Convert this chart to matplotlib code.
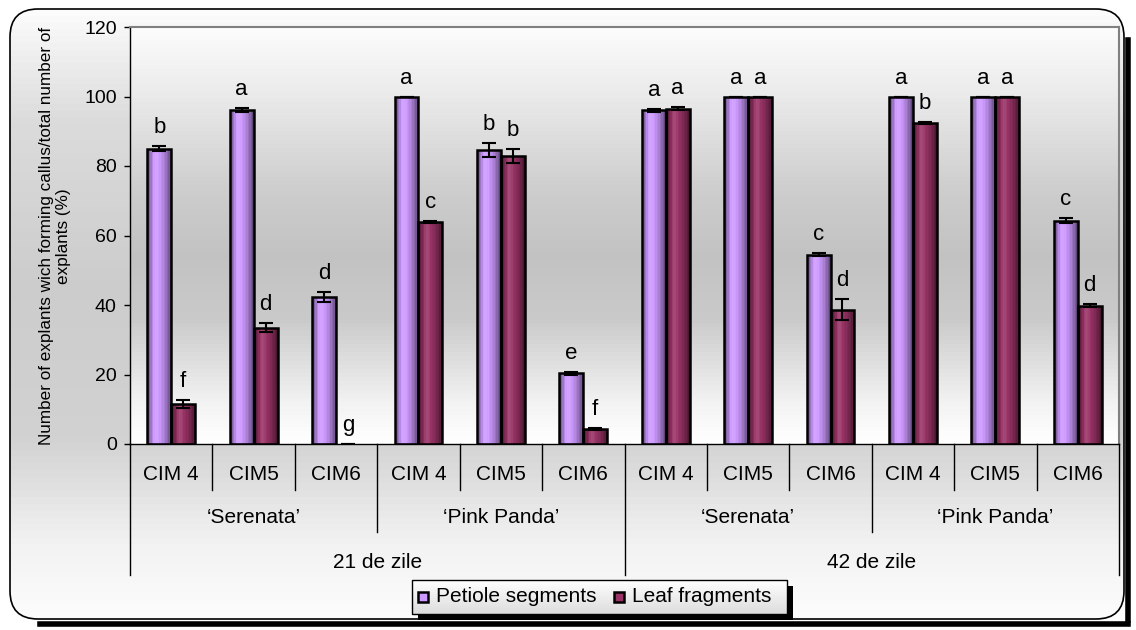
import numpy as np
import matplotlib.pyplot as plt
from matplotlib.patches import Rectangle, FancyBboxPatch
from matplotlib.colors import to_rgb

plt.rcParams["font.family"] = ["Liberation Sans", "DejaVu Sans"]

# ---- data -------------------------------------------------------------
media = ["CIM 4", "CIM5", "CIM6"] * 4
varieties = ["\u2018Serenata\u2019", "\u2018Pink Panda\u2019"] * 2
periods = ["21 de zile", "42 de zile"]

petiole = [85.0, 96.0, 42.3, 100.0, 84.5, 20.3, 96.0, 100.0, 54.5, 100.0, 100.0, 64.3]
petiole_err = [0.8, 0.6, 1.5, 0.0, 2.0, 0.4, 0.5, 0.0, 0.4, 0.0, 0.0, 0.8]
petiole_letters = ["b", "a", "d", "a", "b", "e", "a", "a", "c", "a", "a", "c"]

leaf = [11.5, 33.5, 0.0, 64.0, 83.0, 4.2, 96.5, 100.0, 38.7, 92.5, 100.0, 39.8]
leaf_err = [1.2, 1.3, 0.0, 0.3, 2.0, 0.3, 0.4, 0.0, 3.0, 0.3, 0.0, 0.5]
leaf_letters = ["f", "d", "g", "c", "b", "f", "a", "a", "d", "b", "a", "d"]

PETIOLE_COLOR = "#CC99FF"
LEAF_COLOR = "#993366"

W, H, DPI = 1136, 630, 100
fig = plt.figure(figsize=(W / DPI, H / DPI), dpi=DPI, facecolor="white")
inch = fig.dpi_scale_trans


def box(px, py, pw, ph):
    # pixel box from the top-left corner -> inches from bottom-left
    return px / DPI, (H - py - ph) / DPI, pw / DPI, ph / DPI


def shade_color(base, s):
    base = np.array(to_rgb(base))
    if s > 1:
        return tuple(np.clip(base + (1 - base) * (s - 1) * 2, 0, 1))
    return tuple(np.clip(base * s, 0, 1))


def gray_bands(px, py, pw, ph, pos, vals, n, zorder, clip=None):
    # vertical gray gradient, pos 0 = top
    for i in range(n):
        g = float(np.interp((i + 0.5) / n, pos, vals))
        bx, by, bw_, bh_ = box(px, py + ph * i / n, pw, ph / n * 1.1)
        r = Rectangle((bx, by), bw_, bh_, transform=inch, facecolor=(g, g, g),
                      edgecolor="none", linewidth=0, zorder=zorder)
        fig.add_artist(r)
        if clip is not None:
            r.set_clip_path(clip)


# ---- figure background ----------------------------------------------------
rs = "round,pad=0,rounding_size=0.28"
fx, fy, fw, fh = box(10, 9, W - 22, H - 20)
# shadow only along the lower right, drawn as thick lines
fig.add_artist(plt.Line2D([(W - 8) / DPI, (W - 8) / DPI], [(H - 40) / DPI, 10 / DPI],
                          transform=inch, color="black", linewidth=4, zorder=-10))
fig.add_artist(plt.Line2D([40 / DPI, (W - 8) / DPI], [6 / DPI, 6 / DPI],
                          transform=inch, color="black", linewidth=4, zorder=-10))
frame = FancyBboxPatch((fx, fy), fw, fh, boxstyle=rs, transform=inch,
                       facecolor="none", edgecolor="none", zorder=-9)
fig.add_artist(frame)
gray_bands(10, 9, W - 22, H - 20, [0, 0.18, 0.45, 0.7, 0.88, 1.0],
           [0.99, 0.86, 0.80, 0.82, 0.95, 0.99], 90, -8, clip=frame)
fig.add_artist(FancyBboxPatch((fx, fy), fw, fh, boxstyle=rs, transform=inch,
                              facecolor="none", edgecolor="black", linewidth=1.2,
                              zorder=-7))

# ---- main axes -----------------------------------------------------------
ax = fig.add_axes([130 / W, 1 - 444 / H, 989 / W, 417 / H])
x = np.arange(len(media))

grad_pos = [0, 0.1, 0.3, 0.45, 0.6, 0.8, 1.0]
grad_val = [1.0, 0.95, 0.79, 0.76, 0.8, 0.9, 0.99]
nb = 100
for i in range(nb):
    g = float(np.interp((i + 0.5) / nb, grad_pos, grad_val))
    ax.axhspan(120 * i / nb, 120 * (i + 1.1) / nb, facecolor=(g, g, g),
               edgecolor="none", linewidth=0, zorder=0.2)

shade_pos = [0, 0.1, 0.3, 0.45, 0.7, 0.9, 1.0]
shade_val = [0.4, 0.65, 1.06, 1.04, 0.85, 0.6, 0.4]
strips = 16

bw = 0.29
for values, errs, letters, color, off in (
    (petiole, petiole_err, petiole_letters, PETIOLE_COLOR, -bw / 2),
    (leaf, leaf_err, leaf_letters, LEAF_COLOR, bw / 2),
):
    bars = ax.bar(x + off, values, width=bw, facecolor=color, edgecolor="none", zorder=2)
    for bar in bars:
        bh = bar.get_height()
        if bh <= 0:
            continue
        bx, bwid = bar.get_x(), bar.get_width()
        for k in range(strips):
            s = float(np.interp((k + 0.5) / strips, shade_pos, shade_val))
            ax.add_patch(Rectangle((bx + k * bwid / strips, 0), bwid / strips * 1.08, bh,
                                   facecolor=shade_color(color, s), edgecolor="none",
                                   linewidth=0, antialiased=False, zorder=2.5))
        ax.add_patch(Rectangle((bx, 0), bwid, bh, facecolor="none", edgecolor="black",
                               linewidth=1.8, zorder=3))
    ax.errorbar(x + off, values, yerr=errs, fmt="none", ecolor="black",
                elinewidth=1.5, capsize=5, capthick=1.5, zorder=4)
    for xi, v, e, lab in zip(x + off, values, errs, letters):
        ax.annotate(lab, (xi, v + e), xytext=(0, 13), textcoords="offset pixels",
                    ha="center", va="baseline", fontsize=16, zorder=5)

ax.set_xlim(-0.5, 11.5)
ax.set_ylim(0, 120)
ax.set_yticks(np.arange(0, 121, 20))
ax.tick_params(axis="y", direction="out", length=4.5, width=1, pad=5, labelsize=14)
ax.set_xticks([])
for side in ("top", "right"):
    ax.spines[side].set_color("#808080")
    ax.spines[side].set_linewidth(1.5)
ax.spines["left"].set_linewidth(1)
ax.spines["bottom"].set_linewidth(1)

# ---- multi level category axis -------------------------------------------
tr = ax.get_xaxis_transform()
for xi, lab in zip(x, media):
    ax.text(xi, -0.074, lab, transform=tr, ha="center", va="center", fontsize=15)
for i, lab in enumerate(varieties):
    ax.text(3 * i + 1, -0.177, lab, transform=tr, ha="center", va="center", fontsize=15)
for i, lab in enumerate(periods):
    ax.text(6 * i + 2.5, -0.283, lab, transform=tr, ha="center", va="center", fontsize=15)

for b in np.arange(-0.5, 12, 1.0):
    if b in (-0.5, 5.5, 11.5):
        depth = -0.314
    elif b in (2.5, 8.5):
        depth = -0.211
    else:
        depth = -0.110
    ax.plot([b, b], [0, depth], transform=tr, color="black", linewidth=1,
            clip_on=False, zorder=5)

fig.text(55 / W, 1 - 236 / H,
         "Number of explants wich forming callus/total number of\nexplants (%)",
         rotation=90, ha="center", va="center", multialignment="center",
         fontsize=12.3, linespacing=1.2)

# ---- legend drawn by hand --------------------------------------------------
lx, ly, lw, lh = box(418, 586, 375, 34)
fig.add_artist(Rectangle((lx, ly), lw, lh, transform=inch, facecolor="black",
                         edgecolor="none", zorder=10))
lx, ly, lw, lh = box(412, 580, 375, 34)
gray_bands(412, 580, 375, 34, [0, 1], [1.0, 0.86], 17, 11)
fig.add_artist(Rectangle((lx, ly), lw, lh, transform=inch, facecolor="none",
                         edgecolor="black", linewidth=1, zorder=12))
for sx, color, lab in ((418, PETIOLE_COLOR, "Petiole segments"),
                       (614, LEAF_COLOR, "Leaf fragments")):
    sx0, sy0, sw, sh = box(sx, 592, 10, 10)
    fig.add_artist(Rectangle((sx0, sy0), sw, sh, transform=inch, facecolor=color,
                             edgecolor="black", linewidth=1.8, zorder=13))
    fig.text((sx + 18) / W, 1 - 597 / H, lab, ha="left", va="center", fontsize=15,
             zorder=14)

fig.savefig("out.png", dpi=DPI)
